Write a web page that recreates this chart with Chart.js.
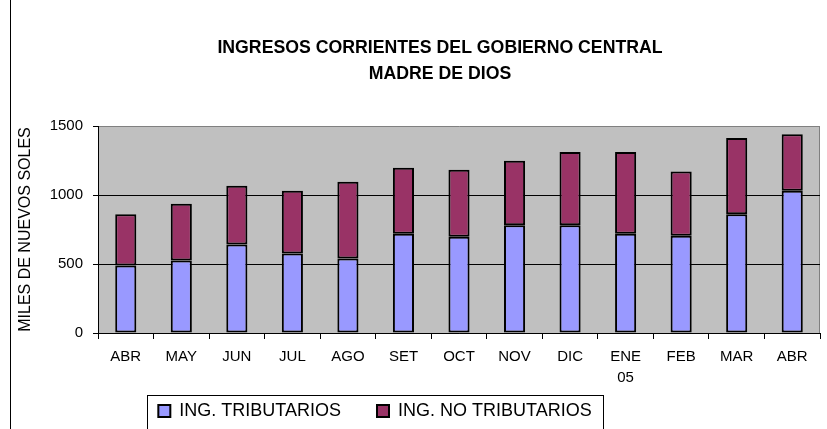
<!DOCTYPE html>
<html lang="es">
<head>
  <meta charset="UTF-8" />
  <title>Ingresos corrientes – Madre de Dios</title>
  <script src="https://cdn.jsdelivr.net/npm/chart.js"></script>
  <style>
    html, body { margin: 0; padding: 0; background: #fff; }
    #caja { width: 827px; height: 429px; }
  </style>
</head>
<body>
  <div id="caja"><canvas id="ingresos" width="827" height="429"></canvas></div>

  <script>
    // datos (miles de nuevos soles)
    const meses = ['ABR', 'MAY', 'JUN', 'JUL', 'AGO', 'SET', 'OCT', 'NOV', 'DIC', ['ENE', '05'], 'FEB', 'MAR', 'ABR'];
    const tributarios = [489, 525, 641, 576, 540, 719, 697, 781, 781, 719, 704, 861, 1031];
    const noTributarios = [372, 411, 426, 455, 556, 479, 486, 468, 530, 592, 467, 552, 409];
    const yTicks = [0, 500, 1000, 1500];

    const fuente = "'Liberation Sans', Arial, sans-serif";

    // fondo gris del area, marco izquierdo y recuadro de la leyenda
    const marco = {
      id: 'marco',
      afterLayout(chart) {
        const lg = chart.legend;
        lg.left = 90; lg.right = 660; lg.width = 570;
        lg.top = 366;
        const t = chart.titleBlock;
        t.left = 60; t.right = 820; t.width = 760;
      },
      beforeDraw(chart) {
        const { ctx, chartArea: a } = chart;
        ctx.save();
        ctx.fillStyle = '#fff';
        ctx.fillRect(0, 0, chart.width, chart.height);
        ctx.fillStyle = '#c0c0c0';
        ctx.fillRect(a.left, a.top, a.right - a.left, a.bottom - a.top);
        ctx.strokeStyle = '#808080';
        ctx.lineWidth = 1;
        ctx.beginPath();
        ctx.moveTo(a.right - 0.5, a.top);
        ctx.lineTo(a.right - 0.5, a.bottom);
        ctx.stroke();
        ctx.strokeStyle = '#000';
        ctx.beginPath();
        ctx.moveTo(10.5, 0);
        ctx.lineTo(10.5, chart.height);
        ctx.stroke();
        ctx.strokeRect(147.5, 395.5, 456, 40);
        ctx.restore();
      }
    };

    new Chart(document.getElementById('ingresos'), {
      type: 'bar',
      data: {
        labels: meses,
        datasets: [{
          label: 'ING. TRIBUTARIOS',
          data: tributarios,
          backgroundColor: '#9999ff',
          borderColor: '#000',
          borderWidth: 2,
          borderSkipped: false
        }, {
          label: 'ING. NO TRIBUTARIOS',
          data: noTributarios,
          backgroundColor: '#993366',
          borderColor: '#000',
          borderWidth: 2,
          borderSkipped: false
        }]
      },
      options: {
        responsive: false,
        animation: false,
        categoryPercentage: 0.38,
        barPercentage: 1,
        layout: { padding: { left: 12, right: 7, top: 0, bottom: 0 } },
        plugins: {
          title: {
            display: true,
            text: ['INGRESOS CORRIENTES DEL GOBIERNO CENTRAL', 'MADRE DE DIOS'],
            color: '#000',
            font: { family: fuente, size: 17.7, weight: 'bold', lineHeight: 1.47 },
            padding: { top: 35, bottom: 39 }
          },
          legend: {
            position: 'bottom',
            maxHeight: 36,
            labels: {
              color: '#000',
              font: { family: fuente, size: 18 },
              boxWidth: 12,
              boxHeight: 12,
              padding: 36
            }
          },
          tooltip: { enabled: false }
        },
        scales: {
          x: {
            stacked: true,
            afterFit: s => { s.height = 60; },
            grid: { drawOnChartArea: false, tickLength: 6, color: '#000' },
            border: { color: '#000' },
            ticks: {
              color: '#000',
              font: { family: fuente, size: 15, lineHeight: 1.35 },
              padding: 8,
              maxRotation: 0,
              autoSkip: false
            }
          },
          y: {
            stacked: true,
            min: 0,
            max: 1500,
            afterFit: s => { s.width = 86; },
            afterBuildTicks: s => { s.ticks = yTicks.map(v => ({ value: v })); },
            grid: {
              color: c => (c.tick && c.tick.value === 1500 ? '#808080' : '#000'),
              tickColor: '#000',
              tickLength: 5
            },
            border: { color: '#000' },
            ticks: {
              color: '#000',
              font: { family: fuente, size: 15 },
              padding: 10,
              callback: v => String(v)
            },
            title: {
              display: true,
              text: 'MILES DE NUEVOS SOLES',
              color: '#000',
              font: { family: fuente, size: 16 },
              padding: { top: 4, bottom: 4 }
            }
          }
        }
      },
      plugins: [marco]
    });
  </script>
</body>
</html>
